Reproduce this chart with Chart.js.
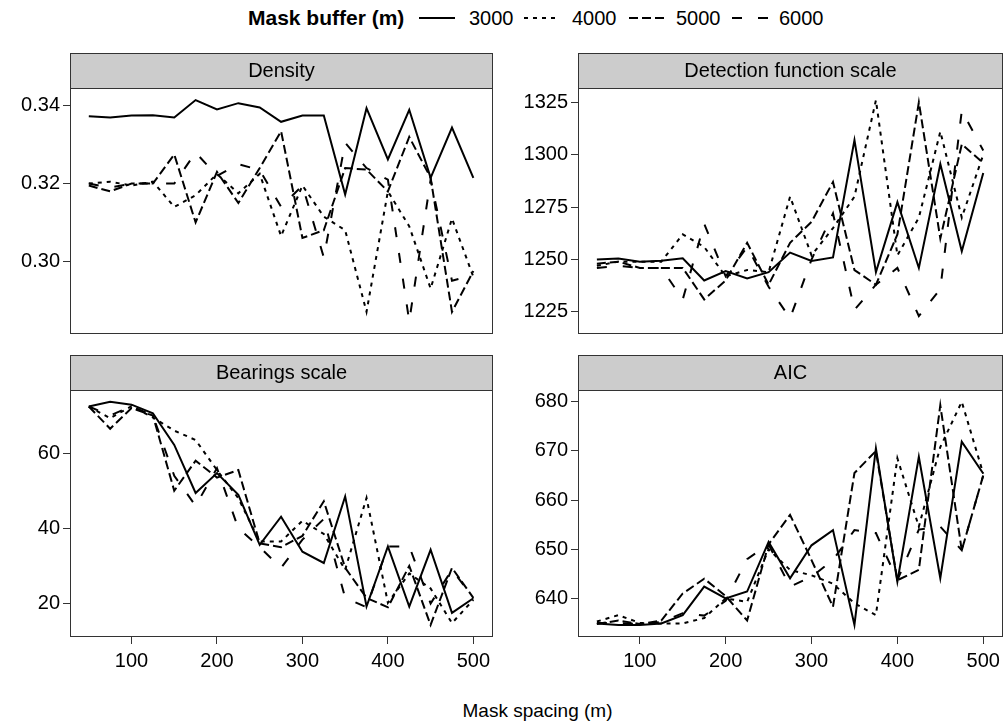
<!DOCTYPE html>
<html>
<head>
<meta charset="utf-8">
<script src="https://cdn.jsdelivr.net/npm/chart.js@4"></script>
<style>
  body { margin: 0; background: #fff; font-family: 'Liberation Sans', Arial, sans-serif; }
  #page { position: relative; width: 1005px; height: 727px; overflow: hidden; }
  canvas { position: absolute; }
  .lg { position: absolute; top: 6px; font-size: 20px; line-height: 24px; color: #000; white-space: nowrap; }
  .lg svg { position: absolute; top: 0; }
  #xtitle { position: absolute; left: 0; width: 1075px; top: 700px; text-align: center; font-size: 19px; }
</style>
</head>
<body>
<div id="page">
  <div class="lg" style="left:248px;font-weight:bold;font-size:21px">Mask buffer (m)</div>
  <div class="lg" style="left:419px"><svg width="36" height="24"><line x1="0" y1="12" x2="36" y2="12" stroke="#000" stroke-width="2"/></svg></div>
  <div class="lg" style="left:469px">3000</div>
  <div class="lg" style="left:524px"><svg width="34" height="24"><line x1="0" y1="12" x2="34" y2="12" stroke="#000" stroke-width="2" stroke-dasharray="4 5"/></svg></div>
  <div class="lg" style="left:572px">4000</div>
  <div class="lg" style="left:629px"><svg width="36" height="24"><line x1="0" y1="12" x2="36" y2="12" stroke="#000" stroke-width="2" stroke-dasharray="9 4"/></svg></div>
  <div class="lg" style="left:676px">5000</div>
  <div class="lg" style="left:732px"><svg width="37" height="24"><line x1="0" y1="12" x2="37" y2="12" stroke="#000" stroke-width="2" stroke-dasharray="10 16"/></svg></div>
  <div class="lg" style="left:779px">6000</div>

  <canvas id="cDensity" width="496" height="296" style="left:0;top:53px"></canvas>
  <canvas id="cDetect" width="497" height="296" style="left:508px;top:53px"></canvas>
  <canvas id="cBearing" width="496" height="322" style="left:0;top:355px"></canvas>
  <canvas id="cAic" width="497" height="322" style="left:508px;top:355px"></canvas>

  <div id="xtitle">Mask spacing (m)</div>
</div>
<script>
const spacing = [50, 75, 100, 125, 150, 175, 200, 225, 250, 275, 300, 325, 350, 375, 400, 425, 450, 475, 500];
const buffers = ['3000', '4000', '5000', '6000'];
const xTicks = [100, 200, 300, 400, 500];

const density3000 = [0.3373, 0.3370, 0.3375, 0.3376, 0.3370, 0.3415, 0.3391, 0.3407, 0.3396, 0.3359, 0.3375, 0.3375, 0.3172, 0.3394, 0.3262, 0.3390, 0.3215, 0.3344, 0.3215];
const density4000 = [0.3200, 0.3205, 0.3195, 0.3205, 0.3140, 0.3170, 0.3225, 0.3175, 0.3225, 0.3065, 0.3195, 0.3115, 0.3080, 0.2870, 0.3180, 0.3090, 0.2930, 0.3110, 0.2960];
const density5000 = [0.3195, 0.3180, 0.3200, 0.3200, 0.3275, 0.3100, 0.3230, 0.3150, 0.3240, 0.3335, 0.3060, 0.3080, 0.3240, 0.3236, 0.3180, 0.3320, 0.3215, 0.2870, 0.2975];
const density6000 = [0.3200, 0.3190, 0.3200, 0.3200, 0.3200, 0.3280, 0.3220, 0.3250, 0.3235, 0.3140, 0.3195, 0.3010, 0.3305, 0.3240, 0.3210, 0.2846, 0.3210, 0.2950, 0.2965];
const densityTicks = [0.30, 0.32, 0.34];

const detect3000 = [1250, 1250.5, 1249, 1249.4, 1250.6, 1240, 1244.5, 1241, 1244, 1253.3, 1249.3, 1251, 1307, 1244, 1277.4, 1246, 1295.5, 1254, 1291.3];
const detect4000 = [1247, 1249, 1249, 1249, 1262, 1256, 1242, 1245, 1244, 1280, 1252, 1265, 1280, 1326, 1252, 1270, 1311, 1270, 1300];
const detect5000 = [1248, 1249, 1246, 1246, 1246, 1231, 1240, 1258, 1238, 1258, 1268, 1287, 1245, 1238, 1262, 1325, 1260, 1305, 1296];
const detect6000 = [1246, 1247, 1246, 1246, 1231, 1267, 1242, 1256, 1237, 1222, 1250, 1272, 1226, 1238, 1246, 1223, 1236, 1321, 1302];
const detectTicks = [1225, 1250, 1275, 1300, 1325];

const bearing3000 = [72.4, 73.7, 72.9, 70.6, 62.2, 49.4, 54.7, 48.9, 35.6, 43.1, 33.8, 30.8, 48.5, 19.2, 35.2, 19.2, 34.3, 17.5, 21.4];
const bearing4000 = [72.4, 69.3, 72.5, 69.5, 66.0, 63.5, 55.5, 48.0, 36.5, 36.5, 42.0, 38.5, 29.0, 48.1, 20.2, 28.0, 24.0, 14.8, 21.0];
const bearing5000 = [72.4, 66.5, 72.0, 70.0, 50.0, 58.0, 53.5, 55.5, 36.0, 35.0, 38.0, 47.2, 29.5, 21.5, 19.0, 30.0, 14.3, 29.5, 21.5];
const bearing6000 = [72.4, 70.0, 72.5, 70.0, 54.0, 46.0, 56.0, 40.0, 35.0, 29.5, 37.0, 42.5, 21.5, 19.0, 35.2, 35.2, 20.0, 29.0, 21.5];
const bearingTicks = [20, 40, 60];

const aic3000 = [634.9, 634.6, 634.6, 634.9, 636.6, 642.4, 640.0, 641.4, 651.5, 644.1, 650.8, 653.9, 634.6, 670.5, 643.4, 668.8, 644.1, 671.9, 665.4];
const aic4000 = [635.3, 636.6, 635.0, 634.9, 634.9, 636.0, 640.0, 639.3, 650.0, 645.8, 644.7, 643.0, 639.0, 636.6, 668.5, 654.6, 670.8, 680.0, 665.4];
const aic5000 = [634.8, 635.5, 634.8, 635.5, 641.0, 644.0, 640.5, 635.5, 651.0, 657.0, 647.8, 638.3, 665.5, 670.0, 643.7, 645.8, 679.3, 649.8, 665.0];
const aic6000 = [635.0, 635.0, 634.8, 635.2, 637.0, 636.5, 639.5, 648.0, 651.0, 642.4, 644.4, 647.8, 653.9, 653.3, 643.7, 654.0, 654.6, 649.8, 665.0];
const aicTicks = [640, 650, 660, 670, 680];

// line style per buffer
const dashes = [[], [4, 5], [9, 4], [10, 16]];
const FONT = "'Liberation Sans', Arial, sans-serif";

// grey strip behind the title + frame round strip and plot
const stripFrame = {
  id: 'stripFrame',
  beforeDraw(chart) {
    const a = chart.chartArea, t = chart.titleBlock, ctx = chart.ctx;
    ctx.save();
    ctx.fillStyle = '#cccccc';
    ctx.fillRect(a.left, t.top, a.right - a.left, a.top - t.top);
    ctx.restore();
  },
  afterDraw(chart) {
    const a = chart.chartArea, t = chart.titleBlock, ctx = chart.ctx;
    ctx.save();
    ctx.strokeStyle = '#333';
    ctx.lineWidth = 1;
    ctx.strokeRect(Math.round(a.left) + 0.5, Math.round(t.top) + 0.5, Math.round(a.right - a.left) - 1, Math.round(a.bottom - t.top) - 1);
    ctx.beginPath();
    ctx.moveTo(a.left, Math.round(a.top) + 0.5);
    ctx.lineTo(a.right, Math.round(a.top) + 0.5);
    ctx.stroke();
    ctx.restore();
  }
};

function makePanel(id, title, series, yMin, yMax, yTicks, showX, decimals, padRight) {
  const datasets = series.map(function (vals, i) {
    return {
      label: buffers[i],
      data: spacing.map(function (x, j) { return { x: x, y: vals[j] }; }),
      borderColor: '#000',
      borderWidth: 2,
      borderDash: dashes[i],
      pointRadius: 0,
      tension: 0,
      fill: false
    };
  });
  new Chart(document.getElementById(id), {
    type: 'line',
    data: { datasets: datasets },
    plugins: [stripFrame],
    options: {
      responsive: false,
      animation: false,
      layout: { padding: { left: 0, right: padRight, top: 0, bottom: showX ? 0 : 14 } },
      plugins: {
        legend: { display: false },
        tooltip: { enabled: false },
        title: {
          display: true,
          text: title,
          fullSize: false,
          color: '#000',
          font: { family: FONT, size: 20, weight: 'normal', lineHeight: 1.2 },
          padding: { top: 6, bottom: 5 }
        }
      },
      scales: {
        x: {
          type: 'linear',
          min: 28,
          max: 523,
          display: showX,
          afterBuildTicks: function (s) { s.ticks = xTicks.map(function (v) { return { value: v }; }); },
          afterFit: function (s) { s.height = showX ? 40 : 0; },
          grid: { drawOnChartArea: false, drawTicks: true, tickLength: 7, color: '#333' },
          border: { display: false },
          ticks: { color: '#000', padding: 5, maxRotation: 0, font: { family: FONT, size: 20 } }
        },
        y: {
          min: yMin,
          max: yMax,
          afterBuildTicks: function (s) { s.ticks = yTicks.map(function (v) { return { value: v }; }); },
          afterFit: function (s) { s.width = 70; },
          grid: { drawOnChartArea: false, drawTicks: true, tickLength: 7, color: '#333' },
          border: { display: false },
          ticks: {
            color: '#000',
            padding: 3,
            font: { family: FONT, size: 20 },
            callback: function (v) { return Number(v).toFixed(decimals); }
          }
        }
      }
    }
  });
}

makePanel('cDensity', 'Density', [density3000, density4000, density5000, density6000], 0.2813, 0.3446, densityTicks, false, 2, 3);
makePanel('cDetect', 'Detection function scale', [detect3000, detect4000, detect5000, detect6000], 1214.5, 1331.8, detectTicks, false, 0, 2);
makePanel('cBearing', 'Bearings scale', [bearing3000, bearing4000, bearing5000, bearing6000], 11.1, 76.8, bearingTicks, true, 0, 3);
makePanel('cAic', 'AIC', [aic3000, aic4000, aic5000, aic6000], 632.15, 682.4, aicTicks, true, 0, 2);
</script>
</body>
</html>
